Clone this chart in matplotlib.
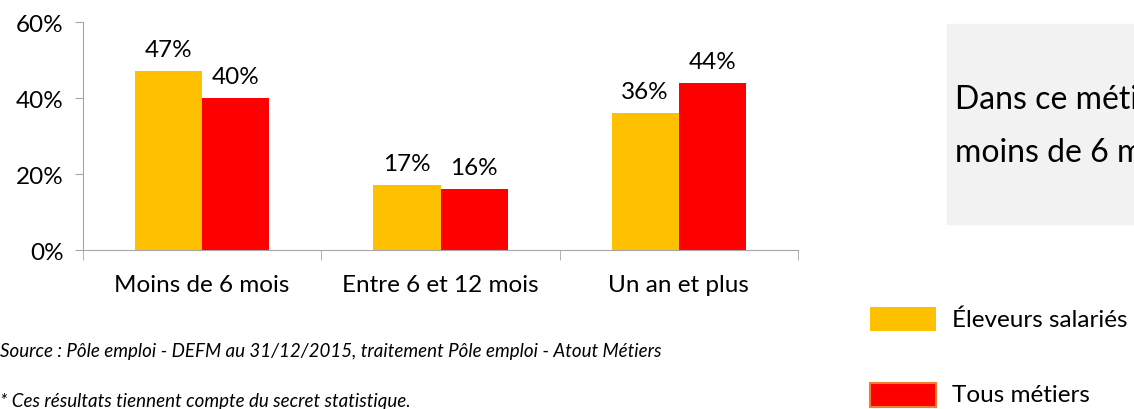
import matplotlib
matplotlib.use("Agg")
import matplotlib.pyplot as plt
import numpy as np
from matplotlib.patches import Rectangle

categories = ["Moins de 6 mois", "Entre 6 et 12 mois", "Un an et plus"]
eleveurs = [47, 17, 36]
tous = [40, 16, 44]
series_names = ["Éleveurs salariés", "Tous métiers"]
yticks = [0, 20, 40, 60]

YELLOW = "#ffc000"
RED = "#ff0000"
AXIS_GREY = "#a6a6a6"

plt.rcParams["font.family"] = ["Lato", "DejaVu Sans"]

fig = plt.figure(figsize=(11.34, 4.10), dpi=100)
ax = fig.add_axes([0.0732, 0.3878, 0.6305, 0.5561])

x = np.arange(len(categories))
w = 0.282
b1 = ax.bar(x - w / 2, eleveurs, w, color=YELLOW)
b2 = ax.bar(x + w / 2, tous, w, color=RED)

for bars, vals in ((b1, eleveurs), (b2, tous)):
    for rect, v in zip(bars, vals):
        ax.annotate(f"{v}%", (rect.get_x() + rect.get_width() / 2, rect.get_height()),
                    xytext=(0, 8), textcoords="offset points",
                    ha="center", va="bottom", fontsize=17.5)

ax.set_xlim(-0.5, len(categories) - 0.5)
ax.set_ylim(0, 60)
ax.set_yticks(yticks)
ax.set_yticklabels([f"{t}%" for t in yticks], fontsize=17.5)
ax.set_xticks(x)
ax.set_xticklabels(categories, fontsize=17.5)
ax.set_xticks(np.arange(-0.5, len(categories)), minor=True)
ax.tick_params(axis="x", which="major", length=0, pad=17)
ax.tick_params(axis="x", which="minor", length=7, color=AXIS_GREY)
ax.tick_params(axis="y", length=6, color=AXIS_GREY, pad=8)
for side in ("top", "right"):
    ax.spines[side].set_visible(False)
for side in ("left", "bottom"):
    ax.spines[side].set_color(AXIS_GREY)

# source notes
fig.text(0.0, 1 - 352 / 410, "Source : Pôle emploi - DEFM au 31/12/2015, traitement Pôle emploi - Atout Métiers",
         fontsize=13.5, style="italic", va="center", ha="left")
fig.text(0.0, 1 - 402 / 410, "* Ces résultats tiennent compte du secret statistique.",
         fontsize=13.5, style="italic", va="center", ha="left")

# comment box on the right (cut by the figure edge, as in the source)
fig.patches.append(Rectangle((947 / 1134, 1 - 225 / 410), 0.2, 200 / 410,
                             transform=fig.transFigure, color="#f2f2f2", zorder=0))
fig.text(955 / 1134, 1 - 100 / 410, "Dans ce métier,",
         fontsize=23, va="center", ha="left")
fig.text(955 / 1134, 1 - 153 / 410, "moins de 6 mois",
         fontsize=23, va="center", ha="left")

# legend drawn by hand
legend_rows = [(YELLOW, "none", 320), (RED, "#ed7d31", 396)]
for (fc, ec, yc), name in zip(legend_rows, series_names):
    fig.patches.append(Rectangle((870 / 1134, 1 - (yc + 12) / 410), 66 / 1134, 24 / 410,
                                 transform=fig.transFigure, facecolor=fc,
                                 edgecolor=ec, linewidth=1.5))
    fig.text(952 / 1134, 1 - yc / 410, name, fontsize=17.5, va="center", ha="left")

fig.savefig("out.png", dpi=100)
